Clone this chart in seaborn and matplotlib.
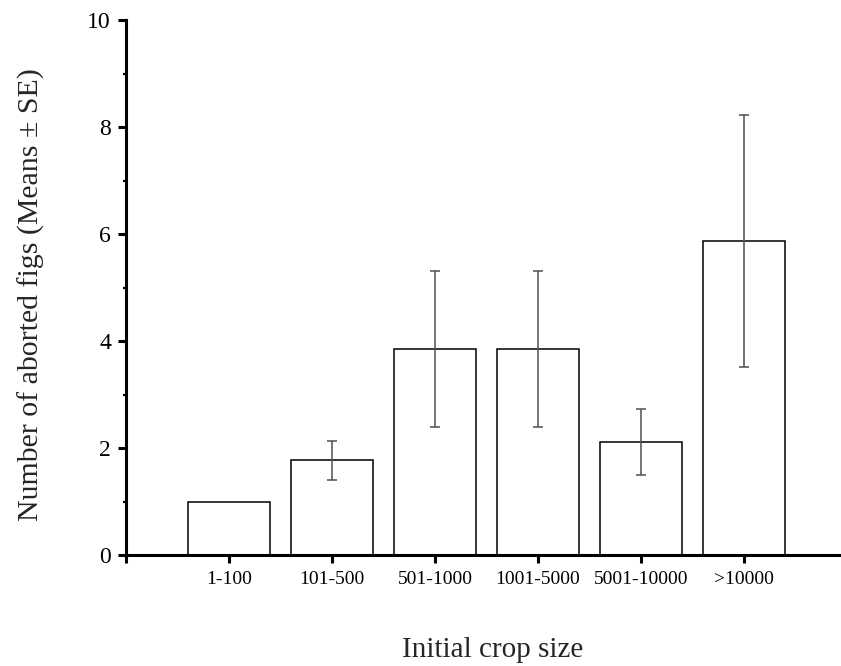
import numpy as np
import pandas as pd
import matplotlib
matplotlib.use("Agg")
import matplotlib.pyplot as plt
import seaborn as sns
from matplotlib.ticker import MultipleLocator

categories = ["1-100", "101-500", "501-1000", "1001-5000", "5001-10000", ">10000"]
means = [1.00, 1.77, 3.85, 3.85, 2.11, 5.87]
se = [np.nan, 0.37, 1.46, 1.46, 0.61, 2.36]
y_ticks = [0, 2, 4, 6, 8, 10]

sns.set_theme(style="ticks")
plt.rcParams["font.family"] = ["Liberation Serif", "DejaVu Serif"]
plt.rcParams["mathtext.fontset"] = "stix"

df = pd.DataFrame({"size": categories, "mean": means, "se": se})

fig = plt.figure(figsize=(8.41, 6.66), dpi=100)
ax = fig.add_axes([126 / 841, 111 / 666, (847 - 126) / 841, 535 / 666])

sns.barplot(data=df, x="size", y="mean", order=categories, color="white",
            edgecolor="black", linewidth=1.1, width=0.8, errorbar=None,
            saturation=1, ax=ax)
for p in ax.patches:
    p.set_facecolor("white")
    p.set_edgecolor("black")

xpos = np.arange(len(categories))
ax.errorbar(xpos, df["mean"], yerr=df["se"], fmt="none", ecolor="#505050",
            elinewidth=1.1, capsize=3.6, capthick=1.1, zorder=5)

ax.set_xlim(-1, 6)
ax.set_ylim(0, 10)
ax.set_yticks(y_ticks)
ax.yaxis.set_minor_locator(MultipleLocator(1))
ax.set_xticks(list(np.arange(-1, len(categories))))
ax.set_xticklabels([""] + categories)

for s in ["top", "right"]:
    ax.spines[s].set_visible(False)
for s in ["left", "bottom"]:
    ax.spines[s].set_linewidth(2.2)
    ax.spines[s].set_color("black")

ax.tick_params(axis="y", which="major", direction="out", length=5.8, width=2.2,
               labelsize=17, pad=5, colors="black")
ax.tick_params(axis="y", which="minor", direction="out", length=2.5, width=1.6,
               colors="black")
ax.tick_params(axis="x", which="major", direction="out", length=5.8, width=2.2,
               labelsize=14, pad=6, colors="black")

ax.set_xlabel("Initial crop size", fontsize=21)
ax.set_ylabel("Number of aborted figs (Means ± SE)", fontsize=21.5)
ax.xaxis.set_label_coords(0.508, -0.153)
ax.yaxis.set_label_coords(-0.113, 0.486)

fig.savefig("out.png", dpi=100)
